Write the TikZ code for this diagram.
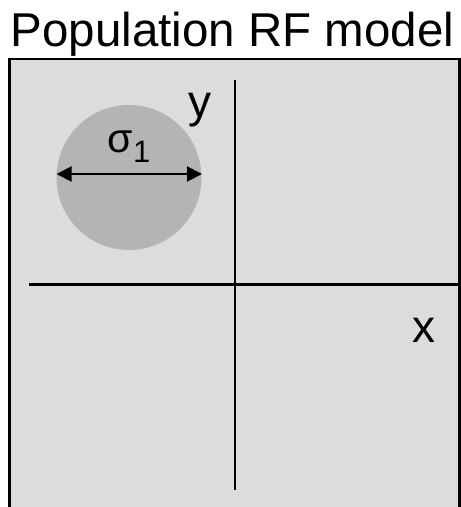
\documentclass[tikz,border=0pt]{standalone}
\usepackage{fontspec}
\setmainfont{Liberation Sans}
\usetikzlibrary{arrows.meta}
\definecolor{boxgray}{HTML}{DCDCDC}
\definecolor{rfgray}{HTML}{B4B4B4}
\tikzset{
  axisline/.style={line width=2.2pt, black},
  biglabel/.style={font=\fontsize{46}{46}\selectfont, inner sep=0pt, anchor=base},
  dimarrow/.style={line width=2pt, {Triangle[length=15pt,width=15pt]}-{Triangle[length=15pt,width=15pt]}}
}
\begin{document}
\begin{tikzpicture}[x=1pt,y=-1pt]
\useasboundingbox (0,0) rectangle (461,507);
\begin{scope}
\clip (0,0) rectangle (461,507);
\draw[line width=2.6pt, fill=boxgray] (9.5,59) rectangle (459.5,530);
\end{scope}
\node[biglabel, font=\fontsize{47.5}{47.5}\selectfont] (title) at (232.5,46) {Population RF model};
\fill[rfgray] (129,177.5) circle (72.5);
\coordinate (aL) at (56.5,174);
\coordinate (aR) at (202,174);
\draw[dimarrow] (aL) -- (aR);
\node[inner sep=0pt, anchor=base] (sig) at (129,152) {\fontsize{41}{41}\selectfont σ\raisebox{-0.25em}{\fontsize{31}{31}\selectfont 1}};
\coordinate (vT) at (235,80);
\coordinate (vB) at (235,490);
\coordinate (hL) at (29,284.5);
\coordinate (hR) at (459,284.5);
\draw[axisline] (vT) -- (vB);
\draw[axisline] (hL) -- (hR);
\node[biglabel] (ylab) at (200,117) {y};
\node[biglabel] (xlab) at (424,342) {x};
\end{tikzpicture}
\end{document}
